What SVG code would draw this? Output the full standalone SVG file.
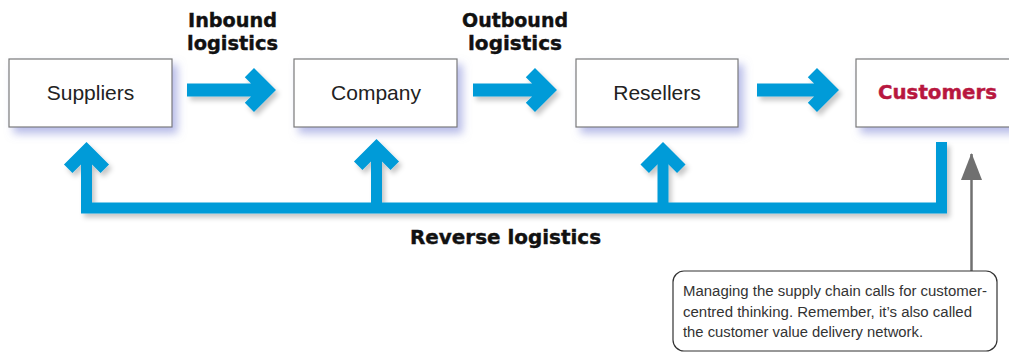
<svg xmlns="http://www.w3.org/2000/svg" width="1009" height="352" viewBox="0 0 1009 352">
<defs>
<filter id="boxShadow" x="-10%" y="-20%" width="130%" height="160%">
<feDropShadow dx="5" dy="6" stdDeviation="4" flood-color="#7d86d6" flood-opacity="0.55"/>
</filter>
<filter id="arrowShadow" x="-10%" y="-10%" width="130%" height="140%">
<feDropShadow dx="3" dy="4" stdDeviation="2.5" flood-color="#000" flood-opacity="0.22"/>
</filter>
<marker id="greyHead" markerUnits="userSpaceOnUse" markerWidth="28" markerHeight="22" refX="26" refY="11" orient="auto" viewBox="0 0 28 22">
<path d="M27 11 L0 0.5 L0 21.5 Z" fill="#707070"/>
</marker>
</defs>
<style>
.box{fill:#fff;stroke:#7a7a7a;stroke-width:1.2}
.lbl{font-family:"Liberation Sans",Arial,sans-serif;font-size:21px;fill:#222;text-anchor:middle}
.hvy{font-family:"DejaVu Sans","Liberation Sans",sans-serif;font-weight:bold;font-size:19.5px;fill:#111;stroke:#111;stroke-width:0.4}
.flow{fill:none;stroke:#009bd8;stroke-linejoin:miter;stroke-miterlimit:10}
.note{font-family:"Liberation Sans",Arial,sans-serif;font-size:15.5px;fill:#333}
</style>

<g id="suppliers">
<rect class="box" x="9" y="59" width="163" height="68" filter="url(#boxShadow)"/>
<text class="lbl" x="90.5" y="100">Suppliers</text>
</g>
<g id="company">
<rect class="box" x="294" y="59" width="163" height="68" filter="url(#boxShadow)"/>
<text class="lbl" x="376" y="100">Company</text>
</g>
<g id="resellers">
<rect class="box" x="576" y="59" width="162" height="68" filter="url(#boxShadow)"/>
<text class="lbl" x="657" y="100">Resellers</text>
</g>
<g id="customers">
<rect class="box" x="856" y="59" width="163" height="68" filter="url(#boxShadow)"/>
<text class="hvy" x="878" y="99" textLength="119" lengthAdjust="spacingAndGlyphs" style="fill:#b8173f;stroke:#b8173f">Customers</text>
</g>

<g id="labels">
<text class="hvy" x="188" y="27" textLength="89" lengthAdjust="spacingAndGlyphs">Inbound</text>
<text class="hvy" x="187" y="50" textLength="91" lengthAdjust="spacingAndGlyphs">logistics</text>
<text class="hvy" x="462" y="27" textLength="106" lengthAdjust="spacingAndGlyphs">Outbound</text>
<text class="hvy" x="468" y="50" textLength="94" lengthAdjust="spacingAndGlyphs">logistics</text>
<text class="hvy" x="410" y="244" textLength="191" lengthAdjust="spacingAndGlyphs">Reverse logistics</text>
</g>

<g id="connectors">
<g filter="url(#arrowShadow)">
<path class="flow" stroke-width="13" d="M187 90 H262 M249.4 72.6 L266.8 90 L249.4 107.4"/>
<path class="flow" stroke-width="13" d="M473 90 H543 M530.4 72.6 L547.8 90 L530.4 107.4"/>
<path class="flow" stroke-width="13" d="M757 90 H825 M812.4 72.6 L829.8 90 L812.4 107.4"/>
<path class="flow" stroke-width="11" d="M941.5 142 V208 H86.5 V152"/>
<path class="flow" stroke-width="11" d="M376.5 208 V148 M663 208 V151"/>
<path class="flow" stroke-width="12" d="M68.2 168.8 L86.5 150.5 L104.8 168.8"/>
<path class="flow" stroke-width="12" d="M358.2 165.8 L376.5 147.5 L394.8 165.8"/>
<path class="flow" stroke-width="12" d="M644.7 168.8 L663 150.5 L681.3 168.8"/>
</g>
<line x1="971.5" y1="272" x2="971.5" y2="154" stroke="#707070" stroke-width="2.5" marker-end="url(#greyHead)"/>
</g>

<g id="callout">
<rect x="673" y="271" width="324" height="80" rx="11" ry="11" fill="#fff" stroke="#333" stroke-width="1.2"/>
<text class="note" x="683" y="296" textLength="304" lengthAdjust="spacingAndGlyphs">Managing the supply chain calls for customer-</text>
<text class="note" x="683" y="317" textLength="289" lengthAdjust="spacingAndGlyphs">centred thinking. Remember, it’s also called</text>
<text class="note" x="683" y="337" textLength="240" lengthAdjust="spacingAndGlyphs">the customer value delivery network.</text>
</g>
</svg>
